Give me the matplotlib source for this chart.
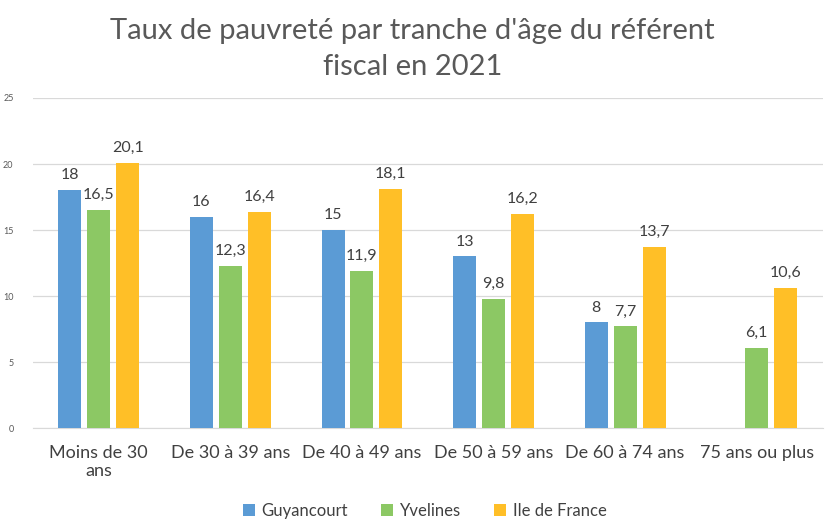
import numpy as np
import matplotlib.pyplot as plt

plt.rcParams['font.family'] = ['Lato', 'DejaVu Sans']

categories = ["Moins de 30\nans", "De 30 à 39 ans", "De 40 à 49 ans",
              "De 50 à 59 ans", "De 60 à 74 ans", "75 ans ou plus"]
guyancourt = [18, 16, 15, 13, 8, np.nan]
yvelines = [16.5, 12.3, 11.9, 9.8, 7.7, 6.1]
idf = [20.1, 16.4, 18.1, 16.2, 13.7, 10.6]

series = [("Guyancourt", guyancourt, "#5B9BD5"),
          ("Yvelines", yvelines, "#8CC864"),
          ("Ile de France", idf, "#FFBF27")]

fig = plt.figure(figsize=(8.25, 5.24), dpi=100)
ax = fig.add_axes([0.040, 0.183, 0.957, 0.63])

x = np.arange(len(categories))
w = 0.175
offs = [-0.22, 0, 0.22]
for (name, vals, col), o in zip(series, offs):
    bars = ax.bar(x + o, vals, w, color=col, label=name, zorder=3)
    for b, v in zip(bars, vals):
        if np.isnan(v):
            continue
        txt = f"{v:g}".replace(".", ",")
        ax.text(b.get_x() + b.get_width() / 2, v + 0.6, txt, ha='center', va='bottom',
                fontsize=11.5, color='#404040')

ax.set_xlim(-0.5, len(categories) - 0.5)
ax.set_ylim(0, 25)
ax.set_yticks(range(0, 26, 5))
ax.yaxis.grid(True, color='#D9D9D9', linewidth=0.9, zorder=0)
ax.tick_params(axis='y', length=0, labelsize=6.5, labelcolor='#595959', pad=14)
ax.tick_params(axis='x', length=0, labelsize=13, labelcolor='#404040', pad=12)
ax.set_xticks(x)
ax.set_xticklabels(categories)
for s in ['top', 'right', 'left']:
    ax.spines[s].set_visible(False)
ax.spines['bottom'].set_color('#D9D9D9')

fig.suptitle("Taux de pauvreté par tranche d'âge du référent\nfiscal en 2021",
             y=0.965, fontsize=21, color='#595959', linespacing=1.45)

fig.legend(loc='center', bbox_to_anchor=(0.515, 0.025), ncol=3, frameon=False,
           fontsize=12, handlelength=0.7, handleheight=0.7, columnspacing=2.0,
           handletextpad=0.4, labelcolor='#404040')

fig.savefig("out.png", dpi=100)
